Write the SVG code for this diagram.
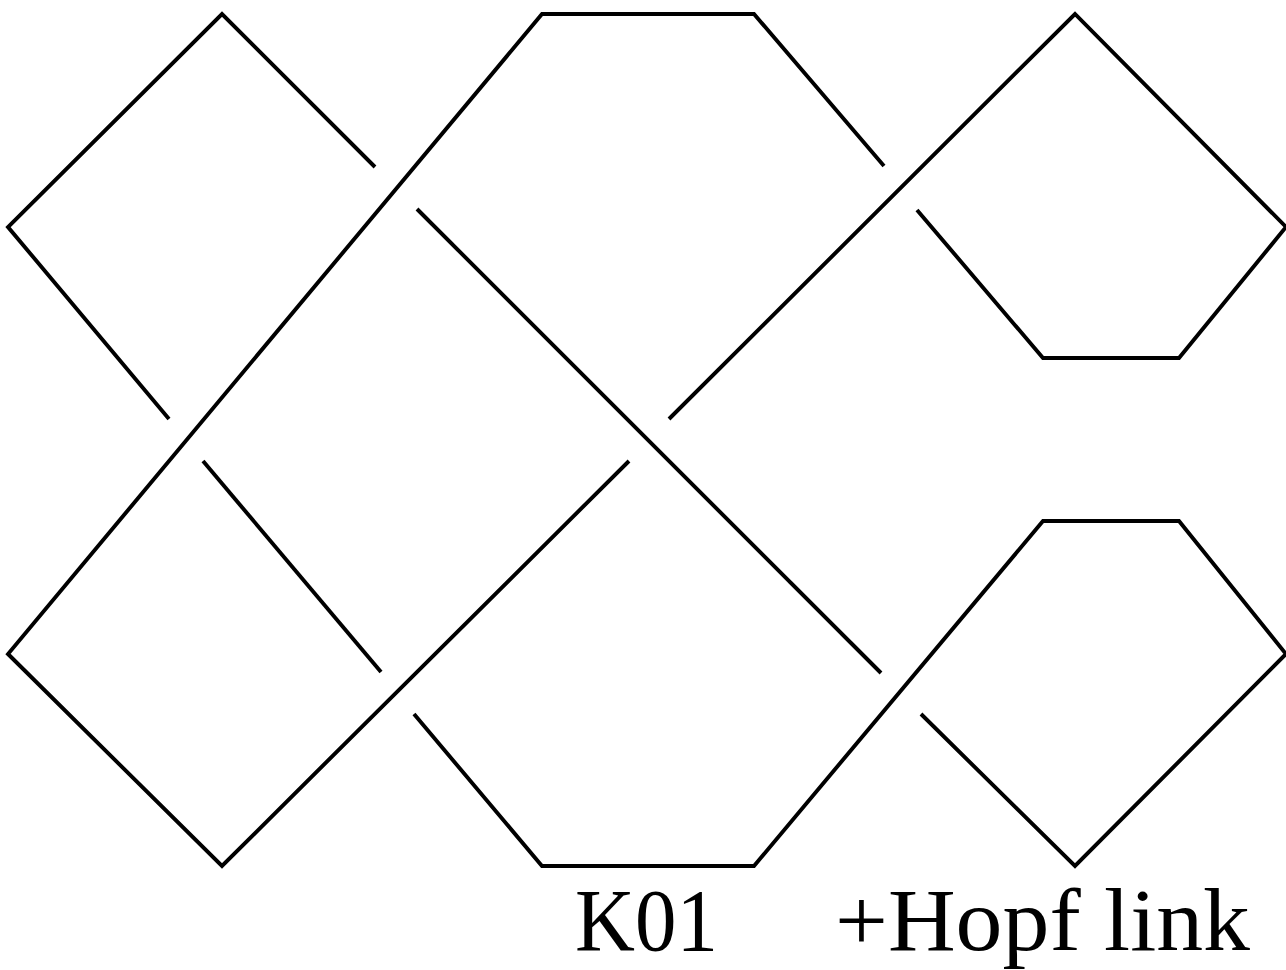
<svg xmlns="http://www.w3.org/2000/svg" width="1286" height="970" viewBox="0 0 1286 970">
<style>
.s{fill:none;stroke:#000;stroke-width:3.9;stroke-linejoin:miter;stroke-linecap:butt}
.t{font-family:"Liberation Serif","DejaVu Serif",serif;font-size:89px;fill:#000}
</style>
<rect width="1286" height="970" fill="#fff"/>
<g id="knot">
<polyline class="s" points="375,167 222,14 8,227 169,419"/>
<polyline class="s" points="884,166 754,14 542,14 8,654 222,866 629,461"/>
<polyline class="s" points="669,419 1075,14 1286,227 1179,358 1043,358 917,210"/>
<line class="s" x1="417" y1="209" x2="881" y2="673"/>
<line class="s" x1="203" y1="461" x2="381" y2="672"/>
<polyline class="s" points="921,714 1075,866 1286,654 1179,521 1043,521 754,866 542,866 414,714"/>
</g>
<g id="labels">
<text class="t" x="575" y="950" textLength="143" lengthAdjust="spacingAndGlyphs">K01</text>
<text class="t" x="835" y="950" textLength="415" lengthAdjust="spacingAndGlyphs">+Hopf link</text>
</g>
</svg>
